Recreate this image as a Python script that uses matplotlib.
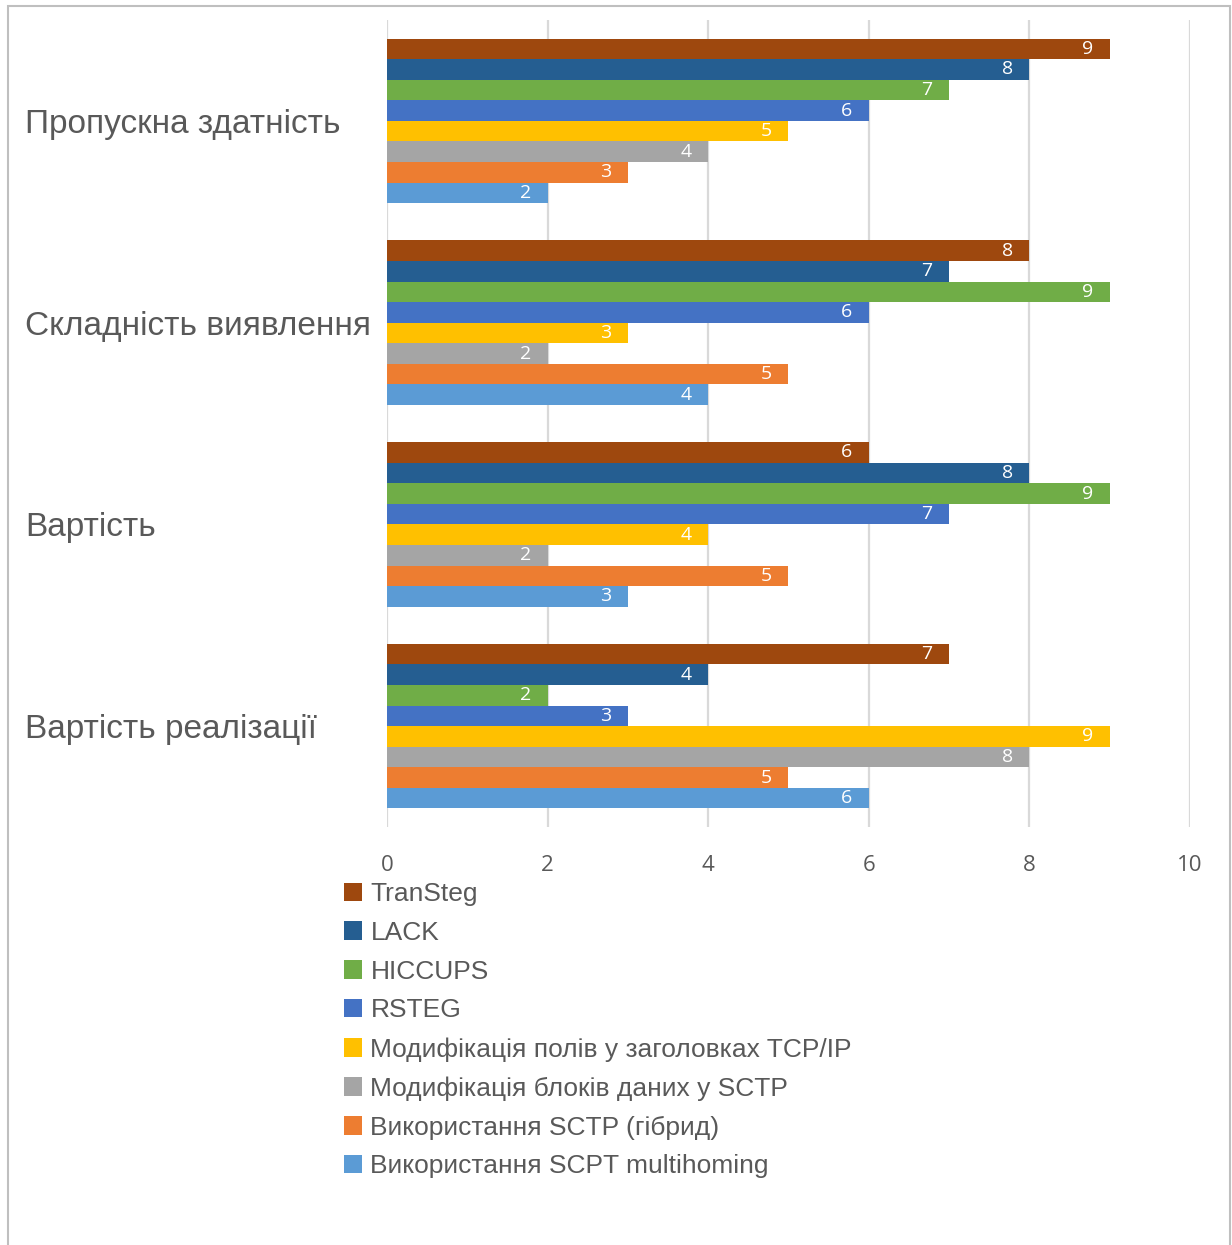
import numpy as np
import matplotlib.pyplot as plt
from matplotlib.patches import Rectangle
from matplotlib.transforms import blended_transform_factory

plt.rcParams["font.family"] = ["Liberation Sans", "DejaVu Sans"]

# categories (top to bottom) and series
categories = ["Пропускна здатність", "Складність виявлення", "Вартість", "Вартість реалізації"]
series = [
    "TranSteg",
    "LACK",
    "HICCUPS",
    "RSTEG",
    "Модифікація полів у заголовках TCP/IP",
    "Модифікація блоків даних у SCTP",
    "Використання SCTP (гібрид)",
    "Використання SCPT multihoming",
]
transteg = [9, 8, 6, 7]
lack = [8, 7, 8, 4]
hiccups = [7, 9, 9, 2]
rsteg = [6, 6, 7, 3]
mod_tcp = [5, 3, 4, 9]
mod_sctp = [4, 2, 2, 8]
sctp_hybrid = [3, 5, 5, 5]
sctp_multi = [2, 4, 3, 6]
values = [transteg, lack, hiccups, rsteg, mod_tcp, mod_sctp, sctp_hybrid, sctp_multi]
colors = ["#9E480E", "#255E91", "#70AD47", "#4472C4", "#FFC000", "#A5A5A5", "#ED7D31", "#5B9BD5"]
xticks = [0, 2, 4, 6, 8, 10]

fig = plt.figure(figsize=(12.32, 12.45), dpi=100)
ax = fig.add_axes([0.3141, 0.3357, 0.6518, 0.6482])

y = np.arange(len(categories))
h = 0.102
containers = []
for j, (name, vals, col) in enumerate(zip(series, values, colors)):
    bars = ax.barh(y + (j - 3.5) * h, vals, height=h, color=col, label=name, linewidth=0)
    containers.append(bars)
    ax.bar_label(bars, labels=[str(v) for v in vals], padding=-20, color="white", fontsize=14,
                 family=["Open Sans", "DejaVu Sans"])

ax.set_ylim(3.5, -0.5)
ax.set_xlim(0, 10)
ax.set_xticks(xticks)
ax.set_xticklabels([str(t) for t in xticks], fontsize=16, color="#595959",
                   family=["Open Sans", "DejaVu Sans"])
ax.tick_params(axis="x", length=0, pad=20)
ax.set_yticks([])
for s in ax.spines.values():
    s.set_visible(False)
ax.xaxis.grid(True, color="#D9D9D9", linewidth=1.6)
ax.set_axisbelow(True)

# category labels on the left
trans = blended_transform_factory(fig.transFigure, ax.transData)
for i, cat in enumerate(categories):
    ax.text(25 / 1232, i, cat, transform=trans, fontsize=24, color="#595959",
            va="center_baseline", ha="left")

# legend
fig.legend(handles=containers, labels=series, loc="upper left", bbox_to_anchor=(344 / 1232, 1 - 882 / 1245),
           frameon=False, fontsize=19, labelcolor="#595959", handlelength=0.7, handleheight=0.7,
           handletextpad=0.3, labelspacing=0.56, borderpad=0, borderaxespad=0)

# outer frame
fig.patches.append(Rectangle((8 / 1232, -0.01), 1222 / 1232, 1 - 6 / 1245 + 0.01, transform=fig.transFigure,
                             fill=False, edgecolor="#BFBFBF", linewidth=1.5))

fig.savefig("out.png", dpi=100)
